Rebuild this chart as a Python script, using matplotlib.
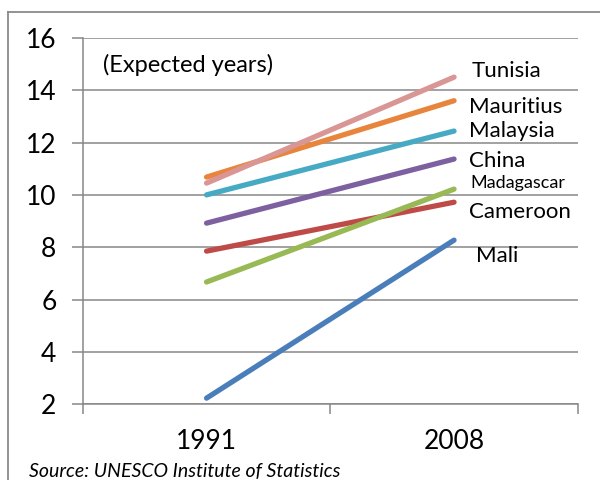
import matplotlib.pyplot as plt
from matplotlib.lines import Line2D

# Datos: años de escolaridad esperados
years = ['1991', '2008']
countries = ['Mali', 'Cameroon', 'Madagascar', 'China', 'Malaysia', 'Mauritius', 'Tunisia']
v1991 = [2.23, 7.85, 6.67, 8.92, 10.0, 10.68, 10.45]
v2008 = [8.27, 9.72, 10.22, 11.37, 12.44, 13.6, 14.5]
colors = ['#4a7ebb', '#be4b48', '#98b954', '#7d60a0', '#46aac5', '#e8853d', '#d99694']

# posiciones de las etiquetas (x en datos, y de la línea base)
label_x = [1.59, 1.56, 1.565, 1.56, 1.56, 1.56, 1.57]
label_y = [7.43, 9.12, 10.26, 11.08, 12.21, 13.14, 14.51]

plt.rcParams['font.family'] = ['Lato', 'DejaVu Sans']

fig = plt.figure(figsize=(6, 4.8), dpi=100)
ax = fig.add_axes([0.138, 0.158, 0.825, 0.763])

xs = [0.5, 1.5]
for i, c in enumerate(countries):
    ax.plot(xs, [v1991[i], v2008[i]], color=colors[i], lw=3.8,
            solid_capstyle='round', zorder=3)
    fs = 13 if c == 'Madagascar' else 16
    ax.text(label_x[i], label_y[i], c, fontsize=fs, va='baseline', ha='left')

ax.set_xlim(0, 2)
ax.set_ylim(2, 16)
ax.set_yticks(range(2, 17, 2))
ax.yaxis.grid(True, color='#878787', lw=1.1)
ax.set_axisbelow(True)
ax.set_xticks([0, 1, 2])
ax.set_xticklabels([])
ax.set_xticks(xs, minor=True)
ax.set_xticklabels(years, minor=True, fontsize=19)
ax.tick_params(axis='x', which='major', length=7, color='#878787', width=1.1)
ax.tick_params(axis='x', which='minor', length=0, pad=18)
ax.tick_params(axis='y', length=8, color='#878787', width=1.1, labelsize=19, pad=11)
for s in ['top', 'right']:
    ax.spines[s].set_visible(False)
for s in ['left', 'bottom']:
    ax.spines[s].set_color('#878787')
    ax.spines[s].set_linewidth(1.1)

ax.text(0.081, 14.7, '(Expected years)', fontsize=17, va='baseline')

fig.text(29 / 600, 0.006, 'Source: UNESCO Institute of Statistics',
         fontsize=14, style='italic', va='baseline')

# marco de la figura
fig.add_artist(Line2D([8 / 600, 8 / 600], [0, 1 - 12 / 480], color='#8a8a8a', lw=1.3))
fig.add_artist(Line2D([8 / 600, 1], [1 - 12 / 480, 1 - 12 / 480], color='#8a8a8a', lw=1.3))

fig.savefig('out.png', dpi=100)
